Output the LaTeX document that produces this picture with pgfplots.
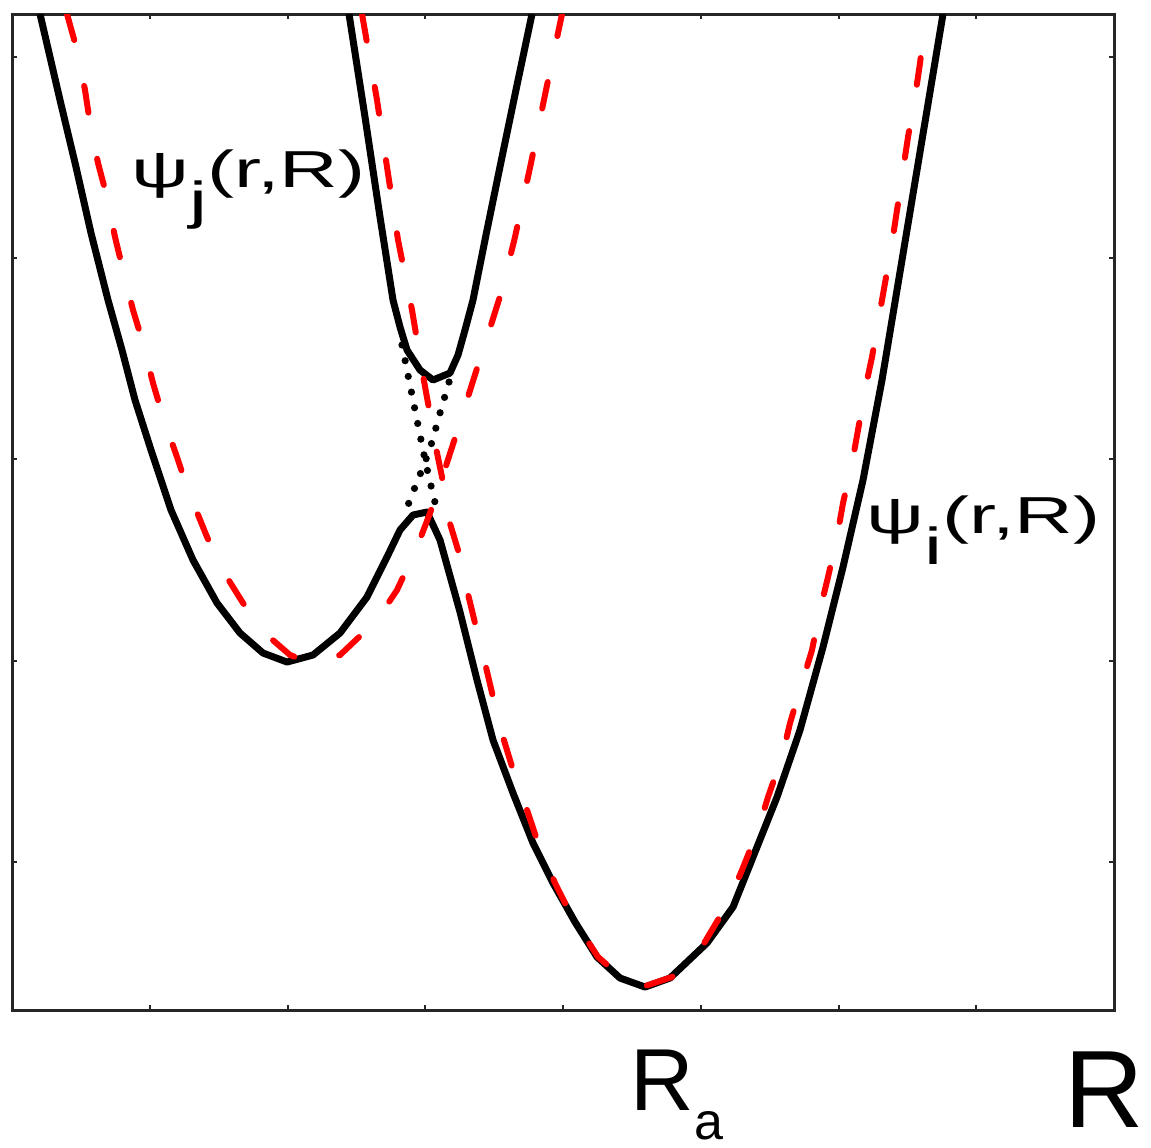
\documentclass[border=0pt]{standalone}
\usepackage{pgfplots}
\pgfplotsset{compat=1.18}
\usepackage{graphicx}
\usepackage{fontspec}
\setmainfont{Liberation Sans}
\begin{document}
\begin{tikzpicture}
\begin{axis}[
  name=ax,
  scale only axis, width=275.5pt, height=249pt,
  xmin=12, xmax=1114, ymin=14, ymax=1010, y dir=reverse,
  clip mode=individual,
  axis line style={line width=0.75pt, black!85},
  xtick={149.75,287.5,425.25,563,700.75,838.5,976.25},
  ytick={57,258,459,661,862},
  xticklabels={}, yticklabels={},
  tick align=inside, tick pos=both, major tick length=1.2pt,
  tick style={line width=0.5pt, black!85},
]
% lower adiabatic (black solid)
\addplot[black, line width=1.75pt, line join=round] coordinates {
(40,14)(60,100)(76,167)(91,233)(108,300)(122,350)(135,400)(151,450)(171,510)(193,560)(217,603)(240,633)(263,653)(287,662)(313,655)(340,633)(367,597)(387,557)(400,530)(413,515)(427,512)(440,540)(460,612)(477,680)(493,740)(513,793)(533,843)(553,883)(575,922)(597,957)(620,978)(645,987)(670,978)(707,943)(733,907)(753,857)(777,797)(800,730)(823,647)(843,567)(863,480)(882,380)(912,200)(943,14)
};
% upper adiabatic (black solid)
\addplot[black, line width=1.75pt, line join=round] coordinates {
(349,14)(365,117)(380,217)(393,300)(400,327)(407,350)(420,370)(433,380)(450,373)(458,355)(465,330)(473,300)(487,230)(502,157)(517,85)(532,14)
};
% diabatic crossing (black dotted)
\addplot[black, line width=1.8pt, line cap=round, dash pattern=on 0pt off 4pt] coordinates {
(402,345)(410,385)(418,425)(425,460)(432,490)(438,515)
};
\addplot[black, line width=1.8pt, line cap=round, dash pattern=on 0pt off 4pt] coordinates {
(449,382)(440,413)(432,442)(425,462)(417,482)(408,505)
};
% red dashed curve 1
\addplot[red, line width=1.5pt, line cap=round, dash pattern=on 6.75pt off 11.75pt] coordinates {
(67,14)(77,50)(85,90)(90,123)(98,163)(107,197)(115,237)(123,270)(133,310)(143,343)(153,383)(163,417)(177,457)(188,490)(205,532)(218,563)(243,603)(267,635)(290,655)(312,663)(340,655)(377,620)(397,590)(417,547)(430,513)(443,475)(455,438)(467,400)(479,362)(491,325)(502,290)(515,237)(531,163)(546,90)(562,14)
};
% red dashed curve 2
\addplot[red, line width=1.5pt, line cap=round, dash pattern=on 6.75pt off 11.75pt] coordinates {
(362,14)(377,100)(387,167)(398,240)(412,310)(422,370)(428,403)(435,443)(442,477)(448,517)(458,550)(467,590)(475,623)(485,663)(493,697)(503,737)(513,770)(527,810)(538,843)(555,883)(572,917)(598,957)(620,976)(645,986)(672,977)(703,945)(728,903)(742,870)(758,830)(768,797)(782,757)(790,723)(802,683)(812,650)(820,610)(828,577)(837,537)(843,503)(852,463)(858,430)(866,385)(872,357)(879,317)(885,283)(892,243)(897,210)(903,170)(908,137)(915,97)(920,63)(926,14)
};
% labels
\node[anchor=base west, inner sep=0pt] at (axis cs:131,187)
  {\fontsize{13pt}{15pt}\selectfont\scalebox{1.56}[1]{ψ\raisebox{-0.6em}{j}(r,R)}};
\node[anchor=base west, inner sep=0pt] at (axis cs:866,533)
  {\fontsize{13pt}{15pt}\selectfont\scalebox{1.56}[1]{ψ\raisebox{-0.6em}{i}(r,R)}};
\node[anchor=base west, inner sep=0pt] at (axis cs:630,1110)
  {\fontsize{22pt}{26pt}\selectfont R\raisebox{-7.4pt}{\fontsize{13pt}{15pt}\selectfont a}};
\node[anchor=base west, inner sep=0pt] at (axis cs:1064,1127)
  {\fontsize{27.5pt}{32pt}\selectfont R};
\end{axis}
\pgfresetboundingbox
\path ([xshift=-3pt,yshift=-34.25pt]ax.south west) rectangle ([xshift=9.25pt,yshift=3.5pt]ax.north east);
\end{tikzpicture}
\end{document}
